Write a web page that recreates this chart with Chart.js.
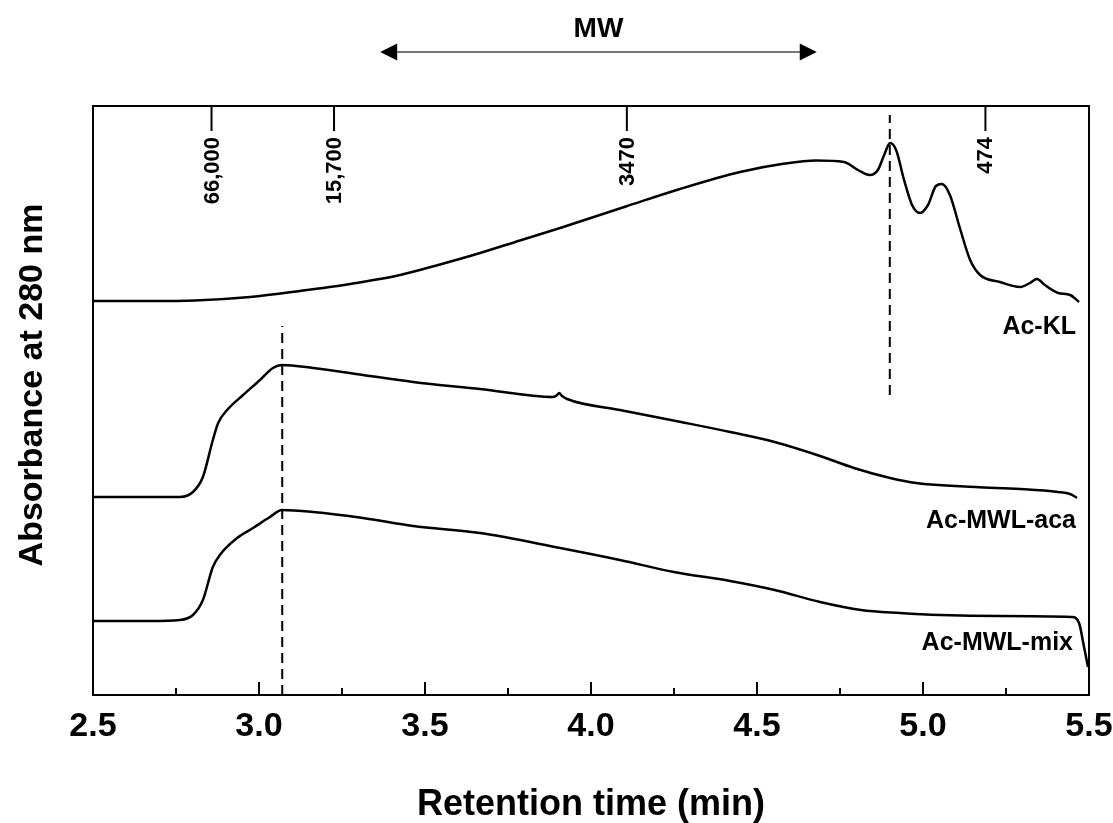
<!DOCTYPE html>
<html>
<head>
<meta charset="utf-8">
<script src="https://cdn.jsdelivr.net/npm/chart.js@4.4.0/dist/chart.umd.min.js"></script>
<style>
  body{margin:0;background:#fff;}
  canvas{display:block;}
</style>
</head>
<body>
<canvas id="gpcChart" width="1113" height="823"></canvas>
<script>
// Retention time (min) and absorbance (arbitrary units, traces are stacked)
const klTime=[2.5,2.672,2.807,2.973,3.123,3.274,3.425,3.545,3.666,3.786,3.907,4.105,4.268,4.449,4.584,4.678,4.762,4.804,4.840,4.864,4.883,4.901,4.919,4.943,4.967,4.991,5.015,5.039,5.057,5.081,5.111,5.142,5.172,5.232,5.292,5.322,5.343,5.367,5.407,5.443,5.470];
const klAbs=[394,394,394.5,398,404,411,420,430.5,442,454.5,467,488.5,506,523,531.5,534.5,533,525,520,525,540,552,545,515,490,482,490,509,511,500,467,435,420,413,408,412,416,410,402,400,393];

const acaTime=[2.5,2.672,2.762,2.801,2.831,2.861,2.877,2.904,2.952,3.003,3.042,3.069,3.163,3.313,3.464,3.666,3.886,3.898,3.904,3.913,3.928,4.087,4.271,4.419,4.553,4.69,4.792,4.901,4.979,5.157,5.292,5.407,5.443,5.464];
const acaAbs=[198,198,198,203,218,255,272,285,300,315,327,330,327,320,313,306,298,300,302,299,296,285,273,263,253,239,227,217,212,208,206,203,201,197];

const mixTime=[2.5,2.672,2.762,2.801,2.831,2.861,2.882,2.934,2.982,3.033,3.069,3.163,3.313,3.464,3.666,3.907,4.087,4.250,4.419,4.553,4.69,4.813,4.931,5.053,5.232,5.449,5.470,5.485,5.497];
const mixAbs=[74,74,75,80,95,128,140,157,167,178,185,183,177,169,162,147,135,123,114,105,93,85,82,80,79,78,72,48,28];

const traceNames=['Ac-KL','Ac-MWL-aca','Ac-MWL-mix'];

// dashed guide lines: retention time and absorbance span
const guideTime=[4.9,3.07];
const guideFrom=[300,0];
const guideTo=[580,369];

// molecular weight standards
const mwTime=[2.857,3.226,4.108,5.188];
const mwLabels=['66,000','15,700','3470','474'];
const mwArrow=[3.365,4.68];

const xTicks=[2.5,3.0,3.5,4.0,4.5,5.0,5.5];
const xTickLabels=['2.5','3.0','3.5','4.0','4.5','5.0','5.5'];
const xMinorTicks=[2.75,3.25,3.75,4.25,4.75,5.25];

const pts=(t,a)=>t.map((v,i)=>({x:v,y:a[i]}));

const FONT='"Liberation Sans", Arial, sans-serif';
Chart.defaults.font.family=FONT;
Chart.defaults.color='#000';

const traceStyle={borderColor:'#000',borderWidth:2.5,pointRadius:0,cubicInterpolationMode:'monotone',fill:false};
const datasets=[
  {label:traceNames[0],data:pts(klTime,klAbs),...traceStyle},
  {label:traceNames[1],data:pts(acaTime,acaAbs),...traceStyle},
  {label:traceNames[2],data:pts(mixTime,mixAbs),...traceStyle}
];
guideTime.forEach((t,i)=>{
  datasets.push({label:'guide'+i,data:[{x:t,y:guideFrom[i]},{x:t,y:guideTo[i]}],borderColor:'#000',borderWidth:2,borderDash:[10,6],pointRadius:0});
});

// frame, inner ticks and annotations
const decor={
  id:'decor',
  afterDraw(chart){
    const {ctx,chartArea:a,scales:{x,y}}=chart;
    ctx.save();
    ctx.strokeStyle='#000';
    ctx.fillStyle='#000';
    ctx.lineWidth=2;
    ctx.strokeRect(a.left,a.top,a.right-a.left,a.bottom-a.top);

    ctx.beginPath();
    xTicks.forEach(v=>{const px=x.getPixelForValue(v);ctx.moveTo(px,a.bottom);ctx.lineTo(px,a.bottom-13);});
    xMinorTicks.forEach(v=>{const px=x.getPixelForValue(v);ctx.moveTo(px,a.bottom);ctx.lineTo(px,a.bottom-7);});
    ctx.stroke();

    // MW standards
    ctx.font='bold 22px '+FONT;
    mwTime.forEach((t,i)=>{
      const px=x.getPixelForValue(t);
      ctx.beginPath();ctx.moveTo(px,a.top);ctx.lineTo(px,a.top+25);ctx.stroke();
      ctx.save();
      ctx.translate(px,a.top+31);
      ctx.rotate(-Math.PI/2);
      ctx.textAlign='right';ctx.textBaseline='middle';
      ctx.fillText(mwLabels[i],0,1);
      ctx.restore();
    });

    // MW arrow
    const x0=x.getPixelForValue(mwArrow[0]),x1=x.getPixelForValue(mwArrow[1]),ay=52;
    ctx.strokeStyle='#777';
    ctx.beginPath();ctx.moveTo(x0+10,ay);ctx.lineTo(x1-10,ay);ctx.stroke();
    ctx.beginPath();
    ctx.moveTo(x0,ay);ctx.lineTo(x0+17,ay-8.5);ctx.lineTo(x0+17,ay+8.5);ctx.closePath();
    ctx.moveTo(x1,ay);ctx.lineTo(x1-17,ay-8.5);ctx.lineTo(x1-17,ay+8.5);ctx.closePath();
    ctx.fill();
    ctx.font='bold 28px '+FONT;
    ctx.textAlign='center';ctx.textBaseline='middle';
    ctx.fillText('MW',(x0+x1)/2,29);

    // trace names
    ctx.font='bold 25px '+FONT;
    ctx.textAlign='right';
    ctx.fillText(traceNames[0],a.right-13,327);
    ctx.fillText(traceNames[1],a.right-13,521);
    ctx.fillText(traceNames[2],a.right-16,643);

    // y title
    ctx.save();
    ctx.translate(33,385);
    ctx.rotate(-Math.PI/2);
    ctx.font='bold 34px '+FONT;
    ctx.textAlign='center';ctx.textBaseline='middle';
    ctx.fillText('Absorbance at 280 nm',0,0);
    ctx.restore();
    ctx.restore();
  }
};

new Chart(document.getElementById('gpcChart'),{
  type:'line',
  data:{datasets:datasets},
  options:{
    responsive:false,
    animation:false,
    layout:{padding:{top:106,right:24,left:0,bottom:0}},
    plugins:{legend:{display:false},tooltip:{enabled:false}},
    scales:{
      x:{
        type:'linear',min:2.5,max:5.5,
        afterBuildTicks:s=>{s.ticks=xTicks.map(v=>({value:v}));},
        afterFit:s=>{s.height=128;s.paddingLeft=0;s.paddingRight=0;},
        ticks:{autoSkip:false,maxRotation:0,padding:11,font:{size:34,weight:'bold'},color:'#000',
          callback:(v,i)=>xTickLabels[i]},
        grid:{display:false,drawTicks:false},
        border:{display:false},
        title:{display:true,text:'Retention time (min)',font:{size:36,weight:'bold',lineHeight:1.0},color:'#000',padding:{top:0,bottom:0}}
      },
      y:{
        min:0,max:589,
        afterFit:s=>{s.width=93;},
        ticks:{display:false},
        grid:{display:false,drawTicks:false},
        border:{display:false}
      }
    }
  },
  plugins:[decor]
});
</script>
</body>
</html>
